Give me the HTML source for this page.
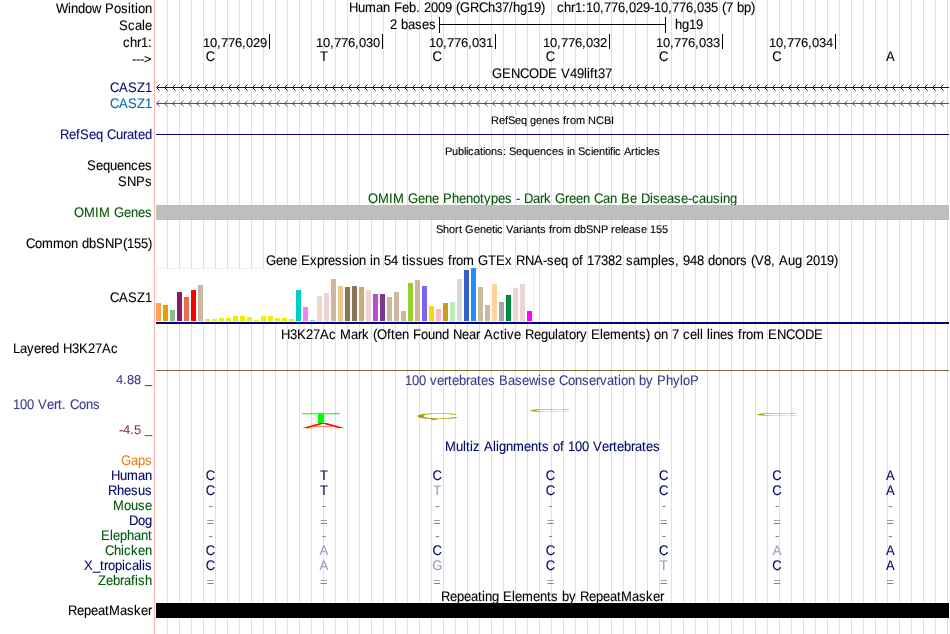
<!DOCTYPE html>
<html lang="en"><head><meta charset="utf-8"><title>UCSC Genome Browser - chr1:10,776,029-10,776,035</title>
<style>
html,body{margin:0;padding:0;background:#fff;overflow:hidden}
svg{display:block;font-family:'Liberation Sans', sans-serif;font-size:13px}
text{white-space:pre;text-rendering:geometricPrecision}
</style></head><body>
<svg width="950" height="634" viewBox="0 0 950 634" shape-rendering="crispEdges" xml:space="preserve">
<rect width="950" height="634" fill="#fff"/>
<path d="M167.5 0V634M179.5 0V634M191.5 0V634M203.5 0V634M215.5 0V634M227.5 0V634M239.5 0V634M251.5 0V634M263.5 0V634M275.5 0V634M287.5 0V634M299.5 0V634M311.5 0V634M323.5 0V634M335.5 0V634M347.5 0V634M359.5 0V634M371.5 0V634M383.5 0V634M395.5 0V634M407.5 0V634M419.5 0V634M431.5 0V634M443.5 0V634M455.5 0V634M467.5 0V634M479.5 0V634M491.5 0V634M503.5 0V634M515.5 0V634M527.5 0V634M539.5 0V634M551.5 0V634M563.5 0V634M575.5 0V634M587.5 0V634M599.5 0V634M611.5 0V634M623.5 0V634M635.5 0V634M647.5 0V634M659.5 0V634M671.5 0V634M683.5 0V634M695.5 0V634M707.5 0V634M719.5 0V634M731.5 0V634M743.5 0V634M755.5 0V634M767.5 0V634M779.5 0V634M791.5 0V634M803.5 0V634M815.5 0V634M827.5 0V634M839.5 0V634M851.5 0V634M863.5 0V634M875.5 0V634M887.5 0V634M899.5 0V634M911.5 0V634M923.5 0V634M935.5 0V634M947.5 0V634" stroke="#dcdcff" stroke-width="1" fill="none"/>
<rect x="154" y="0" width="1" height="634" fill="#ffb4b4"/>
<text x="56 68 71 78 85 92 101 105 114 121 128 131 135 138 145" y="0" transform="translate(0 13) scale(1 1.07)" fill="#000" stroke="#000" stroke-width="0.1">Window Position</text>
<text x="349 358 365 376 383 390 394 402 409 416 420 424 431 438 445 452 456 460 470 479 488 495 502 509 513 520 527 534 541 545 549 553 557 564 571 575 582 586 593 600 604 611 618 625 629 636 643 650 654 661 668 672 679 686 693 697 704 711 718 722 726 733 737 744 751" y="0" transform="translate(0 12) scale(1 1.07)" fill="#000" stroke="#000" stroke-width="0.1">Human Feb. 2009 (GRCh37/hg19)   chr1:10,776,029-10,776,035 (7 bp)</text>
<text x="119 128 135 142 145" y="0" transform="translate(0 30) scale(1 1.07)" fill="#000" stroke="#000" stroke-width="0.1">Scale</text>
<text x="390 397 401 408 415 422 429" y="0" transform="translate(0 29) scale(1 1.07)" fill="#000" stroke="#000" stroke-width="0.1">2 bases</text>
<text x="675 682 689 696" y="0" transform="translate(0 29) scale(1 1.07)" fill="#000" stroke="#000" stroke-width="0.1">hg19</text>
<rect x="439" y="17" width="1" height="16" fill="#000"/>
<rect x="665" y="17" width="1" height="16" fill="#000"/>
<rect x="439" y="24" width="227" height="1" fill="#000"/>
<text x="123 130 137 141 148" y="0" transform="translate(0 47) scale(1 1.07)" fill="#000" stroke="#000" stroke-width="0.1">chr1:</text>
<rect x="269" y="34" width="1" height="15" fill="#000"/>
<text x="203 210 217 221 228 235 242 246 253 260" y="0" transform="translate(0 47) scale(1 0.98)" fill="#000" stroke="#000" stroke-width="0.1">10,776,029</text>
<rect x="382" y="34" width="1" height="15" fill="#000"/>
<text x="316 323 330 334 341 348 355 359 366 373" y="0" transform="translate(0 47) scale(1 0.98)" fill="#000" stroke="#000" stroke-width="0.1">10,776,030</text>
<rect x="495" y="34" width="1" height="15" fill="#000"/>
<text x="429 436 443 447 454 461 468 472 479 486" y="0" transform="translate(0 47) scale(1 0.98)" fill="#000" stroke="#000" stroke-width="0.1">10,776,031</text>
<rect x="609" y="34" width="1" height="15" fill="#000"/>
<text x="543 550 557 561 568 575 582 586 593 600" y="0" transform="translate(0 47) scale(1 0.98)" fill="#000" stroke="#000" stroke-width="0.1">10,776,032</text>
<rect x="722" y="34" width="1" height="15" fill="#000"/>
<text x="656 663 670 674 681 688 695 699 706 713" y="0" transform="translate(0 47) scale(1 0.98)" fill="#000" stroke="#000" stroke-width="0.1">10,776,033</text>
<rect x="835" y="34" width="1" height="15" fill="#000"/>
<text x="769 776 783 787 794 801 808 812 819 826" y="0" transform="translate(0 47) scale(1 0.98)" fill="#000" stroke="#000" stroke-width="0.1">10,776,034</text>
<text x="132 136 140 144" y="0" transform="translate(0 62.6) scale(1 0.9)" fill="#000" stroke="#000" stroke-width="0.1">---&gt;</text>
<text transform="translate(205.87 61) scale(1 1.07)" fill="#000" stroke="#000" stroke-width="0.1">C</text>
<text transform="translate(319.97 61) scale(1 1.07)" fill="#000" stroke="#000" stroke-width="0.1">T</text>
<text transform="translate(432.44 61) scale(1 1.07)" fill="#000" stroke="#000" stroke-width="0.1">C</text>
<text transform="translate(545.73 61) scale(1 1.07)" fill="#000" stroke="#000" stroke-width="0.1">C</text>
<text transform="translate(659.01 61) scale(1 1.07)" fill="#000" stroke="#000" stroke-width="0.1">C</text>
<text transform="translate(772.3 61) scale(1 1.07)" fill="#000" stroke="#000" stroke-width="0.1">C</text>
<text transform="translate(885.99 61) scale(1 1.07)" fill="#000" stroke="#000" stroke-width="0.1">A</text>
<text x="492 502 511 520 529 539 548 557 561 570 577 584 587 590 594 598 605" y="0" transform="translate(0 78) scale(1 1.07)" fill="#000" stroke="#000" stroke-width="0.1">GENCODE V49lift37</text>
<text x="110 119 128 137 145" y="0" transform="translate(0 92) scale(1 1.07)" fill="#0c0c78" stroke="#0c0c78" stroke-width="0.1">CASZ1</text>
<rect x="157" y="87" width="792" height="1" fill="#0c0c78"/>
<rect x="156" y="87" width="1" height="1" fill="#0c0c78" opacity="0.6"/>
<path d="M157 86h1v3h-1zM158 85h1v1h-1zM158 89h1v1h-1zM165 86h1v3h-1zM166 85h1v1h-1zM166 89h1v1h-1zM173 86h1v3h-1zM174 85h1v1h-1zM174 89h1v1h-1zM181 86h1v3h-1zM182 85h1v1h-1zM182 89h1v1h-1zM189 86h1v3h-1zM190 85h1v1h-1zM190 89h1v1h-1zM197 86h1v3h-1zM198 85h1v1h-1zM198 89h1v1h-1zM205 86h1v3h-1zM206 85h1v1h-1zM206 89h1v1h-1zM213 86h1v3h-1zM214 85h1v1h-1zM214 89h1v1h-1zM221 86h1v3h-1zM222 85h1v1h-1zM222 89h1v1h-1zM229 86h1v3h-1zM230 85h1v1h-1zM230 89h1v1h-1zM237 86h1v3h-1zM238 85h1v1h-1zM238 89h1v1h-1zM245 86h1v3h-1zM246 85h1v1h-1zM246 89h1v1h-1zM253 86h1v3h-1zM254 85h1v1h-1zM254 89h1v1h-1zM261 86h1v3h-1zM262 85h1v1h-1zM262 89h1v1h-1zM269 86h1v3h-1zM270 85h1v1h-1zM270 89h1v1h-1zM277 86h1v3h-1zM278 85h1v1h-1zM278 89h1v1h-1zM285 86h1v3h-1zM286 85h1v1h-1zM286 89h1v1h-1zM293 86h1v3h-1zM294 85h1v1h-1zM294 89h1v1h-1zM301 86h1v3h-1zM302 85h1v1h-1zM302 89h1v1h-1zM309 86h1v3h-1zM310 85h1v1h-1zM310 89h1v1h-1zM317 86h1v3h-1zM318 85h1v1h-1zM318 89h1v1h-1zM325 86h1v3h-1zM326 85h1v1h-1zM326 89h1v1h-1zM333 86h1v3h-1zM334 85h1v1h-1zM334 89h1v1h-1zM341 86h1v3h-1zM342 85h1v1h-1zM342 89h1v1h-1zM349 86h1v3h-1zM350 85h1v1h-1zM350 89h1v1h-1zM357 86h1v3h-1zM358 85h1v1h-1zM358 89h1v1h-1zM365 86h1v3h-1zM366 85h1v1h-1zM366 89h1v1h-1zM373 86h1v3h-1zM374 85h1v1h-1zM374 89h1v1h-1zM381 86h1v3h-1zM382 85h1v1h-1zM382 89h1v1h-1zM389 86h1v3h-1zM390 85h1v1h-1zM390 89h1v1h-1zM397 86h1v3h-1zM398 85h1v1h-1zM398 89h1v1h-1zM405 86h1v3h-1zM406 85h1v1h-1zM406 89h1v1h-1zM413 86h1v3h-1zM414 85h1v1h-1zM414 89h1v1h-1zM421 86h1v3h-1zM422 85h1v1h-1zM422 89h1v1h-1zM429 86h1v3h-1zM430 85h1v1h-1zM430 89h1v1h-1zM437 86h1v3h-1zM438 85h1v1h-1zM438 89h1v1h-1zM445 86h1v3h-1zM446 85h1v1h-1zM446 89h1v1h-1zM453 86h1v3h-1zM454 85h1v1h-1zM454 89h1v1h-1zM461 86h1v3h-1zM462 85h1v1h-1zM462 89h1v1h-1zM469 86h1v3h-1zM470 85h1v1h-1zM470 89h1v1h-1zM477 86h1v3h-1zM478 85h1v1h-1zM478 89h1v1h-1zM485 86h1v3h-1zM486 85h1v1h-1zM486 89h1v1h-1zM493 86h1v3h-1zM494 85h1v1h-1zM494 89h1v1h-1zM501 86h1v3h-1zM502 85h1v1h-1zM502 89h1v1h-1zM509 86h1v3h-1zM510 85h1v1h-1zM510 89h1v1h-1zM517 86h1v3h-1zM518 85h1v1h-1zM518 89h1v1h-1zM525 86h1v3h-1zM526 85h1v1h-1zM526 89h1v1h-1zM533 86h1v3h-1zM534 85h1v1h-1zM534 89h1v1h-1zM541 86h1v3h-1zM542 85h1v1h-1zM542 89h1v1h-1zM549 86h1v3h-1zM550 85h1v1h-1zM550 89h1v1h-1zM557 86h1v3h-1zM558 85h1v1h-1zM558 89h1v1h-1zM565 86h1v3h-1zM566 85h1v1h-1zM566 89h1v1h-1zM573 86h1v3h-1zM574 85h1v1h-1zM574 89h1v1h-1zM581 86h1v3h-1zM582 85h1v1h-1zM582 89h1v1h-1zM589 86h1v3h-1zM590 85h1v1h-1zM590 89h1v1h-1zM597 86h1v3h-1zM598 85h1v1h-1zM598 89h1v1h-1zM605 86h1v3h-1zM606 85h1v1h-1zM606 89h1v1h-1zM613 86h1v3h-1zM614 85h1v1h-1zM614 89h1v1h-1zM621 86h1v3h-1zM622 85h1v1h-1zM622 89h1v1h-1zM629 86h1v3h-1zM630 85h1v1h-1zM630 89h1v1h-1zM637 86h1v3h-1zM638 85h1v1h-1zM638 89h1v1h-1zM645 86h1v3h-1zM646 85h1v1h-1zM646 89h1v1h-1zM653 86h1v3h-1zM654 85h1v1h-1zM654 89h1v1h-1zM661 86h1v3h-1zM662 85h1v1h-1zM662 89h1v1h-1zM669 86h1v3h-1zM670 85h1v1h-1zM670 89h1v1h-1zM677 86h1v3h-1zM678 85h1v1h-1zM678 89h1v1h-1zM685 86h1v3h-1zM686 85h1v1h-1zM686 89h1v1h-1zM693 86h1v3h-1zM694 85h1v1h-1zM694 89h1v1h-1zM701 86h1v3h-1zM702 85h1v1h-1zM702 89h1v1h-1zM709 86h1v3h-1zM710 85h1v1h-1zM710 89h1v1h-1zM717 86h1v3h-1zM718 85h1v1h-1zM718 89h1v1h-1zM725 86h1v3h-1zM726 85h1v1h-1zM726 89h1v1h-1zM733 86h1v3h-1zM734 85h1v1h-1zM734 89h1v1h-1zM741 86h1v3h-1zM742 85h1v1h-1zM742 89h1v1h-1zM749 86h1v3h-1zM750 85h1v1h-1zM750 89h1v1h-1zM757 86h1v3h-1zM758 85h1v1h-1zM758 89h1v1h-1zM765 86h1v3h-1zM766 85h1v1h-1zM766 89h1v1h-1zM773 86h1v3h-1zM774 85h1v1h-1zM774 89h1v1h-1zM781 86h1v3h-1zM782 85h1v1h-1zM782 89h1v1h-1zM789 86h1v3h-1zM790 85h1v1h-1zM790 89h1v1h-1zM797 86h1v3h-1zM798 85h1v1h-1zM798 89h1v1h-1zM805 86h1v3h-1zM806 85h1v1h-1zM806 89h1v1h-1zM813 86h1v3h-1zM814 85h1v1h-1zM814 89h1v1h-1zM821 86h1v3h-1zM822 85h1v1h-1zM822 89h1v1h-1zM829 86h1v3h-1zM830 85h1v1h-1zM830 89h1v1h-1zM837 86h1v3h-1zM838 85h1v1h-1zM838 89h1v1h-1zM845 86h1v3h-1zM846 85h1v1h-1zM846 89h1v1h-1zM853 86h1v3h-1zM854 85h1v1h-1zM854 89h1v1h-1zM861 86h1v3h-1zM862 85h1v1h-1zM862 89h1v1h-1zM869 86h1v3h-1zM870 85h1v1h-1zM870 89h1v1h-1zM877 86h1v3h-1zM878 85h1v1h-1zM878 89h1v1h-1zM885 86h1v3h-1zM886 85h1v1h-1zM886 89h1v1h-1zM893 86h1v3h-1zM894 85h1v1h-1zM894 89h1v1h-1zM901 86h1v3h-1zM902 85h1v1h-1zM902 89h1v1h-1zM909 86h1v3h-1zM910 85h1v1h-1zM910 89h1v1h-1zM917 86h1v3h-1zM918 85h1v1h-1zM918 89h1v1h-1zM925 86h1v3h-1zM926 85h1v1h-1zM926 89h1v1h-1zM933 86h1v3h-1zM934 85h1v1h-1zM934 89h1v1h-1zM941 86h1v3h-1zM942 85h1v1h-1zM942 89h1v1h-1z" fill="#0c0c78"/>
<path d="M159 84h1v1h-1zM159 90h1v1h-1zM167 84h1v1h-1zM167 90h1v1h-1zM175 84h1v1h-1zM175 90h1v1h-1zM183 84h1v1h-1zM183 90h1v1h-1zM191 84h1v1h-1zM191 90h1v1h-1zM199 84h1v1h-1zM199 90h1v1h-1zM207 84h1v1h-1zM207 90h1v1h-1zM215 84h1v1h-1zM215 90h1v1h-1zM223 84h1v1h-1zM223 90h1v1h-1zM231 84h1v1h-1zM231 90h1v1h-1zM239 84h1v1h-1zM239 90h1v1h-1zM247 84h1v1h-1zM247 90h1v1h-1zM255 84h1v1h-1zM255 90h1v1h-1zM263 84h1v1h-1zM263 90h1v1h-1zM271 84h1v1h-1zM271 90h1v1h-1zM279 84h1v1h-1zM279 90h1v1h-1zM287 84h1v1h-1zM287 90h1v1h-1zM295 84h1v1h-1zM295 90h1v1h-1zM303 84h1v1h-1zM303 90h1v1h-1zM311 84h1v1h-1zM311 90h1v1h-1zM319 84h1v1h-1zM319 90h1v1h-1zM327 84h1v1h-1zM327 90h1v1h-1zM335 84h1v1h-1zM335 90h1v1h-1zM343 84h1v1h-1zM343 90h1v1h-1zM351 84h1v1h-1zM351 90h1v1h-1zM359 84h1v1h-1zM359 90h1v1h-1zM367 84h1v1h-1zM367 90h1v1h-1zM375 84h1v1h-1zM375 90h1v1h-1zM383 84h1v1h-1zM383 90h1v1h-1zM391 84h1v1h-1zM391 90h1v1h-1zM399 84h1v1h-1zM399 90h1v1h-1zM407 84h1v1h-1zM407 90h1v1h-1zM415 84h1v1h-1zM415 90h1v1h-1zM423 84h1v1h-1zM423 90h1v1h-1zM431 84h1v1h-1zM431 90h1v1h-1zM439 84h1v1h-1zM439 90h1v1h-1zM447 84h1v1h-1zM447 90h1v1h-1zM455 84h1v1h-1zM455 90h1v1h-1zM463 84h1v1h-1zM463 90h1v1h-1zM471 84h1v1h-1zM471 90h1v1h-1zM479 84h1v1h-1zM479 90h1v1h-1zM487 84h1v1h-1zM487 90h1v1h-1zM495 84h1v1h-1zM495 90h1v1h-1zM503 84h1v1h-1zM503 90h1v1h-1zM511 84h1v1h-1zM511 90h1v1h-1zM519 84h1v1h-1zM519 90h1v1h-1zM527 84h1v1h-1zM527 90h1v1h-1zM535 84h1v1h-1zM535 90h1v1h-1zM543 84h1v1h-1zM543 90h1v1h-1zM551 84h1v1h-1zM551 90h1v1h-1zM559 84h1v1h-1zM559 90h1v1h-1zM567 84h1v1h-1zM567 90h1v1h-1zM575 84h1v1h-1zM575 90h1v1h-1zM583 84h1v1h-1zM583 90h1v1h-1zM591 84h1v1h-1zM591 90h1v1h-1zM599 84h1v1h-1zM599 90h1v1h-1zM607 84h1v1h-1zM607 90h1v1h-1zM615 84h1v1h-1zM615 90h1v1h-1zM623 84h1v1h-1zM623 90h1v1h-1zM631 84h1v1h-1zM631 90h1v1h-1zM639 84h1v1h-1zM639 90h1v1h-1zM647 84h1v1h-1zM647 90h1v1h-1zM655 84h1v1h-1zM655 90h1v1h-1zM663 84h1v1h-1zM663 90h1v1h-1zM671 84h1v1h-1zM671 90h1v1h-1zM679 84h1v1h-1zM679 90h1v1h-1zM687 84h1v1h-1zM687 90h1v1h-1zM695 84h1v1h-1zM695 90h1v1h-1zM703 84h1v1h-1zM703 90h1v1h-1zM711 84h1v1h-1zM711 90h1v1h-1zM719 84h1v1h-1zM719 90h1v1h-1zM727 84h1v1h-1zM727 90h1v1h-1zM735 84h1v1h-1zM735 90h1v1h-1zM743 84h1v1h-1zM743 90h1v1h-1zM751 84h1v1h-1zM751 90h1v1h-1zM759 84h1v1h-1zM759 90h1v1h-1zM767 84h1v1h-1zM767 90h1v1h-1zM775 84h1v1h-1zM775 90h1v1h-1zM783 84h1v1h-1zM783 90h1v1h-1zM791 84h1v1h-1zM791 90h1v1h-1zM799 84h1v1h-1zM799 90h1v1h-1zM807 84h1v1h-1zM807 90h1v1h-1zM815 84h1v1h-1zM815 90h1v1h-1zM823 84h1v1h-1zM823 90h1v1h-1zM831 84h1v1h-1zM831 90h1v1h-1zM839 84h1v1h-1zM839 90h1v1h-1zM847 84h1v1h-1zM847 90h1v1h-1zM855 84h1v1h-1zM855 90h1v1h-1zM863 84h1v1h-1zM863 90h1v1h-1zM871 84h1v1h-1zM871 90h1v1h-1zM879 84h1v1h-1zM879 90h1v1h-1zM887 84h1v1h-1zM887 90h1v1h-1zM895 84h1v1h-1zM895 90h1v1h-1zM903 84h1v1h-1zM903 90h1v1h-1zM911 84h1v1h-1zM911 90h1v1h-1zM919 84h1v1h-1zM919 90h1v1h-1zM927 84h1v1h-1zM927 90h1v1h-1zM935 84h1v1h-1zM935 90h1v1h-1zM943 84h1v1h-1zM943 90h1v1h-1z" fill="#0c0c78" opacity="0.45"/>
<text x="110 119 128 137 145" y="0" transform="translate(0 108) scale(1 1.07)" fill="#016fab" stroke="#016fab" stroke-width="0.1">CASZ1</text>
<rect x="157" y="103" width="792" height="1" fill="#016fab"/>
<rect x="156" y="103" width="1" height="1" fill="#016fab" opacity="0.6"/>
<path d="M157 102h1v3h-1zM158 101h1v1h-1zM158 105h1v1h-1zM165 102h1v3h-1zM166 101h1v1h-1zM166 105h1v1h-1zM173 102h1v3h-1zM174 101h1v1h-1zM174 105h1v1h-1zM181 102h1v3h-1zM182 101h1v1h-1zM182 105h1v1h-1zM189 102h1v3h-1zM190 101h1v1h-1zM190 105h1v1h-1zM197 102h1v3h-1zM198 101h1v1h-1zM198 105h1v1h-1zM205 102h1v3h-1zM206 101h1v1h-1zM206 105h1v1h-1zM213 102h1v3h-1zM214 101h1v1h-1zM214 105h1v1h-1zM221 102h1v3h-1zM222 101h1v1h-1zM222 105h1v1h-1zM229 102h1v3h-1zM230 101h1v1h-1zM230 105h1v1h-1zM237 102h1v3h-1zM238 101h1v1h-1zM238 105h1v1h-1zM245 102h1v3h-1zM246 101h1v1h-1zM246 105h1v1h-1zM253 102h1v3h-1zM254 101h1v1h-1zM254 105h1v1h-1zM261 102h1v3h-1zM262 101h1v1h-1zM262 105h1v1h-1zM269 102h1v3h-1zM270 101h1v1h-1zM270 105h1v1h-1zM277 102h1v3h-1zM278 101h1v1h-1zM278 105h1v1h-1zM285 102h1v3h-1zM286 101h1v1h-1zM286 105h1v1h-1zM293 102h1v3h-1zM294 101h1v1h-1zM294 105h1v1h-1zM301 102h1v3h-1zM302 101h1v1h-1zM302 105h1v1h-1zM309 102h1v3h-1zM310 101h1v1h-1zM310 105h1v1h-1zM317 102h1v3h-1zM318 101h1v1h-1zM318 105h1v1h-1zM325 102h1v3h-1zM326 101h1v1h-1zM326 105h1v1h-1zM333 102h1v3h-1zM334 101h1v1h-1zM334 105h1v1h-1zM341 102h1v3h-1zM342 101h1v1h-1zM342 105h1v1h-1zM349 102h1v3h-1zM350 101h1v1h-1zM350 105h1v1h-1zM357 102h1v3h-1zM358 101h1v1h-1zM358 105h1v1h-1zM365 102h1v3h-1zM366 101h1v1h-1zM366 105h1v1h-1zM373 102h1v3h-1zM374 101h1v1h-1zM374 105h1v1h-1zM381 102h1v3h-1zM382 101h1v1h-1zM382 105h1v1h-1zM389 102h1v3h-1zM390 101h1v1h-1zM390 105h1v1h-1zM397 102h1v3h-1zM398 101h1v1h-1zM398 105h1v1h-1zM405 102h1v3h-1zM406 101h1v1h-1zM406 105h1v1h-1zM413 102h1v3h-1zM414 101h1v1h-1zM414 105h1v1h-1zM421 102h1v3h-1zM422 101h1v1h-1zM422 105h1v1h-1zM429 102h1v3h-1zM430 101h1v1h-1zM430 105h1v1h-1zM437 102h1v3h-1zM438 101h1v1h-1zM438 105h1v1h-1zM445 102h1v3h-1zM446 101h1v1h-1zM446 105h1v1h-1zM453 102h1v3h-1zM454 101h1v1h-1zM454 105h1v1h-1zM461 102h1v3h-1zM462 101h1v1h-1zM462 105h1v1h-1zM469 102h1v3h-1zM470 101h1v1h-1zM470 105h1v1h-1zM477 102h1v3h-1zM478 101h1v1h-1zM478 105h1v1h-1zM485 102h1v3h-1zM486 101h1v1h-1zM486 105h1v1h-1zM493 102h1v3h-1zM494 101h1v1h-1zM494 105h1v1h-1zM501 102h1v3h-1zM502 101h1v1h-1zM502 105h1v1h-1zM509 102h1v3h-1zM510 101h1v1h-1zM510 105h1v1h-1zM517 102h1v3h-1zM518 101h1v1h-1zM518 105h1v1h-1zM525 102h1v3h-1zM526 101h1v1h-1zM526 105h1v1h-1zM533 102h1v3h-1zM534 101h1v1h-1zM534 105h1v1h-1zM541 102h1v3h-1zM542 101h1v1h-1zM542 105h1v1h-1zM549 102h1v3h-1zM550 101h1v1h-1zM550 105h1v1h-1zM557 102h1v3h-1zM558 101h1v1h-1zM558 105h1v1h-1zM565 102h1v3h-1zM566 101h1v1h-1zM566 105h1v1h-1zM573 102h1v3h-1zM574 101h1v1h-1zM574 105h1v1h-1zM581 102h1v3h-1zM582 101h1v1h-1zM582 105h1v1h-1zM589 102h1v3h-1zM590 101h1v1h-1zM590 105h1v1h-1zM597 102h1v3h-1zM598 101h1v1h-1zM598 105h1v1h-1zM605 102h1v3h-1zM606 101h1v1h-1zM606 105h1v1h-1zM613 102h1v3h-1zM614 101h1v1h-1zM614 105h1v1h-1zM621 102h1v3h-1zM622 101h1v1h-1zM622 105h1v1h-1zM629 102h1v3h-1zM630 101h1v1h-1zM630 105h1v1h-1zM637 102h1v3h-1zM638 101h1v1h-1zM638 105h1v1h-1zM645 102h1v3h-1zM646 101h1v1h-1zM646 105h1v1h-1zM653 102h1v3h-1zM654 101h1v1h-1zM654 105h1v1h-1zM661 102h1v3h-1zM662 101h1v1h-1zM662 105h1v1h-1zM669 102h1v3h-1zM670 101h1v1h-1zM670 105h1v1h-1zM677 102h1v3h-1zM678 101h1v1h-1zM678 105h1v1h-1zM685 102h1v3h-1zM686 101h1v1h-1zM686 105h1v1h-1zM693 102h1v3h-1zM694 101h1v1h-1zM694 105h1v1h-1zM701 102h1v3h-1zM702 101h1v1h-1zM702 105h1v1h-1zM709 102h1v3h-1zM710 101h1v1h-1zM710 105h1v1h-1zM717 102h1v3h-1zM718 101h1v1h-1zM718 105h1v1h-1zM725 102h1v3h-1zM726 101h1v1h-1zM726 105h1v1h-1zM733 102h1v3h-1zM734 101h1v1h-1zM734 105h1v1h-1zM741 102h1v3h-1zM742 101h1v1h-1zM742 105h1v1h-1zM749 102h1v3h-1zM750 101h1v1h-1zM750 105h1v1h-1zM757 102h1v3h-1zM758 101h1v1h-1zM758 105h1v1h-1zM765 102h1v3h-1zM766 101h1v1h-1zM766 105h1v1h-1zM773 102h1v3h-1zM774 101h1v1h-1zM774 105h1v1h-1zM781 102h1v3h-1zM782 101h1v1h-1zM782 105h1v1h-1zM789 102h1v3h-1zM790 101h1v1h-1zM790 105h1v1h-1zM797 102h1v3h-1zM798 101h1v1h-1zM798 105h1v1h-1zM805 102h1v3h-1zM806 101h1v1h-1zM806 105h1v1h-1zM813 102h1v3h-1zM814 101h1v1h-1zM814 105h1v1h-1zM821 102h1v3h-1zM822 101h1v1h-1zM822 105h1v1h-1zM829 102h1v3h-1zM830 101h1v1h-1zM830 105h1v1h-1zM837 102h1v3h-1zM838 101h1v1h-1zM838 105h1v1h-1zM845 102h1v3h-1zM846 101h1v1h-1zM846 105h1v1h-1zM853 102h1v3h-1zM854 101h1v1h-1zM854 105h1v1h-1zM861 102h1v3h-1zM862 101h1v1h-1zM862 105h1v1h-1zM869 102h1v3h-1zM870 101h1v1h-1zM870 105h1v1h-1zM877 102h1v3h-1zM878 101h1v1h-1zM878 105h1v1h-1zM885 102h1v3h-1zM886 101h1v1h-1zM886 105h1v1h-1zM893 102h1v3h-1zM894 101h1v1h-1zM894 105h1v1h-1zM901 102h1v3h-1zM902 101h1v1h-1zM902 105h1v1h-1zM909 102h1v3h-1zM910 101h1v1h-1zM910 105h1v1h-1zM917 102h1v3h-1zM918 101h1v1h-1zM918 105h1v1h-1zM925 102h1v3h-1zM926 101h1v1h-1zM926 105h1v1h-1zM933 102h1v3h-1zM934 101h1v1h-1zM934 105h1v1h-1zM941 102h1v3h-1zM942 101h1v1h-1zM942 105h1v1h-1z" fill="#016fab"/>
<path d="M159 100h1v1h-1zM159 106h1v1h-1zM167 100h1v1h-1zM167 106h1v1h-1zM175 100h1v1h-1zM175 106h1v1h-1zM183 100h1v1h-1zM183 106h1v1h-1zM191 100h1v1h-1zM191 106h1v1h-1zM199 100h1v1h-1zM199 106h1v1h-1zM207 100h1v1h-1zM207 106h1v1h-1zM215 100h1v1h-1zM215 106h1v1h-1zM223 100h1v1h-1zM223 106h1v1h-1zM231 100h1v1h-1zM231 106h1v1h-1zM239 100h1v1h-1zM239 106h1v1h-1zM247 100h1v1h-1zM247 106h1v1h-1zM255 100h1v1h-1zM255 106h1v1h-1zM263 100h1v1h-1zM263 106h1v1h-1zM271 100h1v1h-1zM271 106h1v1h-1zM279 100h1v1h-1zM279 106h1v1h-1zM287 100h1v1h-1zM287 106h1v1h-1zM295 100h1v1h-1zM295 106h1v1h-1zM303 100h1v1h-1zM303 106h1v1h-1zM311 100h1v1h-1zM311 106h1v1h-1zM319 100h1v1h-1zM319 106h1v1h-1zM327 100h1v1h-1zM327 106h1v1h-1zM335 100h1v1h-1zM335 106h1v1h-1zM343 100h1v1h-1zM343 106h1v1h-1zM351 100h1v1h-1zM351 106h1v1h-1zM359 100h1v1h-1zM359 106h1v1h-1zM367 100h1v1h-1zM367 106h1v1h-1zM375 100h1v1h-1zM375 106h1v1h-1zM383 100h1v1h-1zM383 106h1v1h-1zM391 100h1v1h-1zM391 106h1v1h-1zM399 100h1v1h-1zM399 106h1v1h-1zM407 100h1v1h-1zM407 106h1v1h-1zM415 100h1v1h-1zM415 106h1v1h-1zM423 100h1v1h-1zM423 106h1v1h-1zM431 100h1v1h-1zM431 106h1v1h-1zM439 100h1v1h-1zM439 106h1v1h-1zM447 100h1v1h-1zM447 106h1v1h-1zM455 100h1v1h-1zM455 106h1v1h-1zM463 100h1v1h-1zM463 106h1v1h-1zM471 100h1v1h-1zM471 106h1v1h-1zM479 100h1v1h-1zM479 106h1v1h-1zM487 100h1v1h-1zM487 106h1v1h-1zM495 100h1v1h-1zM495 106h1v1h-1zM503 100h1v1h-1zM503 106h1v1h-1zM511 100h1v1h-1zM511 106h1v1h-1zM519 100h1v1h-1zM519 106h1v1h-1zM527 100h1v1h-1zM527 106h1v1h-1zM535 100h1v1h-1zM535 106h1v1h-1zM543 100h1v1h-1zM543 106h1v1h-1zM551 100h1v1h-1zM551 106h1v1h-1zM559 100h1v1h-1zM559 106h1v1h-1zM567 100h1v1h-1zM567 106h1v1h-1zM575 100h1v1h-1zM575 106h1v1h-1zM583 100h1v1h-1zM583 106h1v1h-1zM591 100h1v1h-1zM591 106h1v1h-1zM599 100h1v1h-1zM599 106h1v1h-1zM607 100h1v1h-1zM607 106h1v1h-1zM615 100h1v1h-1zM615 106h1v1h-1zM623 100h1v1h-1zM623 106h1v1h-1zM631 100h1v1h-1zM631 106h1v1h-1zM639 100h1v1h-1zM639 106h1v1h-1zM647 100h1v1h-1zM647 106h1v1h-1zM655 100h1v1h-1zM655 106h1v1h-1zM663 100h1v1h-1zM663 106h1v1h-1zM671 100h1v1h-1zM671 106h1v1h-1zM679 100h1v1h-1zM679 106h1v1h-1zM687 100h1v1h-1zM687 106h1v1h-1zM695 100h1v1h-1zM695 106h1v1h-1zM703 100h1v1h-1zM703 106h1v1h-1zM711 100h1v1h-1zM711 106h1v1h-1zM719 100h1v1h-1zM719 106h1v1h-1zM727 100h1v1h-1zM727 106h1v1h-1zM735 100h1v1h-1zM735 106h1v1h-1zM743 100h1v1h-1zM743 106h1v1h-1zM751 100h1v1h-1zM751 106h1v1h-1zM759 100h1v1h-1zM759 106h1v1h-1zM767 100h1v1h-1zM767 106h1v1h-1zM775 100h1v1h-1zM775 106h1v1h-1zM783 100h1v1h-1zM783 106h1v1h-1zM791 100h1v1h-1zM791 106h1v1h-1zM799 100h1v1h-1zM799 106h1v1h-1zM807 100h1v1h-1zM807 106h1v1h-1zM815 100h1v1h-1zM815 106h1v1h-1zM823 100h1v1h-1zM823 106h1v1h-1zM831 100h1v1h-1zM831 106h1v1h-1zM839 100h1v1h-1zM839 106h1v1h-1zM847 100h1v1h-1zM847 106h1v1h-1zM855 100h1v1h-1zM855 106h1v1h-1zM863 100h1v1h-1zM863 106h1v1h-1zM871 100h1v1h-1zM871 106h1v1h-1zM879 100h1v1h-1zM879 106h1v1h-1zM887 100h1v1h-1zM887 106h1v1h-1zM895 100h1v1h-1zM895 106h1v1h-1zM903 100h1v1h-1zM903 106h1v1h-1zM911 100h1v1h-1zM911 106h1v1h-1zM919 100h1v1h-1zM919 106h1v1h-1zM927 100h1v1h-1zM927 106h1v1h-1zM935 100h1v1h-1zM935 106h1v1h-1zM943 100h1v1h-1zM943 106h1v1h-1z" fill="#016fab" opacity="0.45"/>
<text x="491 499 505 508 515 521 527 530 536 542 548 554 560 563 566 570 576 585 588 596 604 611" y="124" font-size="11" fill="#000" stroke="#000" stroke-width="0.1">RefSeq genes from NCBI</text>
<text x="60 69 76 80 89 96 103 107 116 123 127 134 138 145" y="0" transform="translate(0 139) scale(1 1.07)" fill="#0c0c78" stroke="#0c0c78" stroke-width="0.1">RefSeq Curated</text>
<rect x="156" y="134" width="793" height="1" fill="#0c0c78"/>
<text x="445 452 458 464 466 468 474 480 483 485 491 497 503 506 509 516 522 528 534 540 546 552 558 564 567 569 575 578 585 591 593 599 605 608 610 613 615 621 624 631 635 638 640 646 648 654" y="155" font-size="11" fill="#000" stroke="#000" stroke-width="0.1">Publications: Sequences in Scientific Articles</text>
<text x="87 96 103 110 117 124 131 138 145" y="0" transform="translate(0 170) scale(1 1.07)" fill="#000" stroke="#000" stroke-width="0.1">Sequences</text>
<text x="118 127 136 145" y="0" transform="translate(0 186) scale(1 1.07)" fill="#000" stroke="#000" stroke-width="0.1">SNPs</text>
<text x="368 378 389 393 404 408 418 425 432 439 443 452 459 466 473 480 484 491 498 505 512 516 520 524 533 540 544 551 555 565 569 576 583 590 594 603 610 617 621 630 637 641 650 653 660 667 674 681 688 692 699 706 713 720 723 730" y="0" transform="translate(0 203) scale(1 1.07)" fill="#085608" stroke="#085608" stroke-width="0.1">OMIM Gene Phenotypes - Dark Green Can Be Disease-causing</text>
<text x="74 84 95 99 110 114 124 131 138 145" y="0" transform="translate(0 217) scale(1 1.07)" fill="#085608" stroke="#085608" stroke-width="0.1">OMIM Genes</text>
<rect x="156" y="205" width="793" height="15" fill="#bebebe"/>
<text x="436 443 449 455 459 462 465 474 480 486 492 495 497 503 506 513 519 523 525 531 537 540 546 549 552 556 562 571 574 580 586 593 601 608 611 615 621 623 629 635 641 647 650 656 662" y="233" font-size="11" fill="#000" stroke="#000" stroke-width="0.1">Short Genetic Variants from dbSNP release 155</text>
<text x="26 35 42 53 64 71 78 82 89 96 105 114 123 127 134 141 148" y="0" transform="translate(0 248) scale(1 1.07)" fill="#000" stroke="#000" stroke-width="0.1">Common dbSNP(155)</text>
<text x="266 276 283 290 297 301 310 317 324 328 335 342 349 352 359 366 370 373 380 384 391 398 402 406 409 416 423 430 437 444 448 452 456 463 474 478 488 496 505 512 516 525 534 543 547 554 561 568 572 579 583 587 594 601 608 615 622 626 633 640 651 658 661 668 675 679 683 690 697 704 708 715 722 729 736 740 747 751 755 764 771 775 779 788 795 802 806 813 820 827 834" y="0" transform="translate(0 265) scale(1 1.07)" fill="#000" stroke="#000" stroke-width="0.1">Gene Expression in 54 tissues from GTEx RNA-seq of 17382 samples, 948 donors (V8, Aug 2019)</text>
<rect x="156" y="268" width="378" height="54" fill="#f0f0f0"/>
<rect x="157" y="269" width="376" height="52" fill="#fff"/>
<rect x="156" y="303" width="5" height="18" fill="#FFA54F"/>
<rect x="163" y="305" width="5" height="16" fill="#EE9A00"/>
<rect x="170" y="310" width="5" height="11" fill="#8FBC8F"/>
<rect x="177" y="292" width="5" height="29" fill="#8B1C62"/>
<rect x="184" y="297" width="5" height="24" fill="#EE6A50"/>
<rect x="191" y="290" width="5" height="31" fill="#FF0000"/>
<rect x="198" y="285" width="5" height="36" fill="#CDB79E"/>
<rect x="205" y="319" width="5" height="2" fill="#EEEE00"/>
<rect x="212" y="319" width="5" height="2" fill="#EEEE00"/>
<rect x="219" y="318" width="5" height="3" fill="#EEEE00"/>
<rect x="226" y="318" width="5" height="3" fill="#EEEE00"/>
<rect x="233" y="316" width="5" height="5" fill="#EEEE00"/>
<rect x="240" y="316" width="5" height="5" fill="#EEEE00"/>
<rect x="247" y="317" width="5" height="4" fill="#EEEE00"/>
<rect x="254" y="320" width="5" height="1" fill="#EEEE00"/>
<rect x="261" y="316" width="5" height="5" fill="#EEEE00"/>
<rect x="268" y="316" width="5" height="5" fill="#EEEE00"/>
<rect x="275" y="318" width="5" height="3" fill="#EEEE00"/>
<rect x="282" y="318" width="5" height="3" fill="#EEEE00"/>
<rect x="289" y="319" width="5" height="2" fill="#EEEE00"/>
<rect x="296" y="290" width="5" height="31" fill="#00CDCD"/>
<rect x="303" y="307" width="5" height="14" fill="#EE82EE"/>
<rect x="310" y="320" width="5" height="1" fill="#9AC0CD"/>
<rect x="317" y="296" width="5" height="25" fill="#EED5D2"/>
<rect x="324" y="293" width="5" height="28" fill="#EED5D2"/>
<rect x="331" y="279" width="5" height="42" fill="#CDB79E"/>
<rect x="338" y="286" width="5" height="35" fill="#EEC591"/>
<rect x="345" y="287" width="5" height="34" fill="#8B7355"/>
<rect x="352" y="286" width="5" height="35" fill="#8B7355"/>
<rect x="359" y="287" width="5" height="34" fill="#CDAA7D"/>
<rect x="366" y="290" width="5" height="31" fill="#EED5D2"/>
<rect x="373" y="294" width="5" height="27" fill="#B452CD"/>
<rect x="380" y="294" width="5" height="27" fill="#7A378B"/>
<rect x="387" y="297" width="5" height="24" fill="#CDB79E"/>
<rect x="394" y="292" width="5" height="29" fill="#CDB79E"/>
<rect x="401" y="311" width="5" height="10" fill="#CDB79E"/>
<rect x="408" y="283" width="5" height="38" fill="#9ACD32"/>
<rect x="415" y="280" width="5" height="41" fill="#CDB79E"/>
<rect x="422" y="286" width="5" height="35" fill="#7A67EE"/>
<rect x="429" y="306" width="5" height="15" fill="#FFD700"/>
<rect x="436" y="309" width="5" height="12" fill="#FFB6C1"/>
<rect x="443" y="303" width="5" height="18" fill="#CD9B1D"/>
<rect x="450" y="302" width="5" height="19" fill="#B4EEB4"/>
<rect x="457" y="279" width="5" height="42" fill="#D9D9D9"/>
<rect x="464" y="270" width="5" height="51" fill="#3A5FCD"/>
<rect x="471" y="268" width="5" height="53" fill="#1E90FF"/>
<rect x="478" y="287" width="5" height="34" fill="#CDB79E"/>
<rect x="485" y="305" width="5" height="16" fill="#CDB79E"/>
<rect x="492" y="284" width="5" height="37" fill="#FFD39B"/>
<rect x="499" y="302" width="5" height="19" fill="#A6A6A6"/>
<rect x="506" y="295" width="5" height="26" fill="#008B45"/>
<rect x="513" y="288" width="5" height="33" fill="#EED5D2"/>
<rect x="520" y="284" width="5" height="37" fill="#EED5D2"/>
<rect x="527" y="311" width="5" height="10" fill="#FF00FF"/>
<rect x="156" y="322" width="793" height="2" fill="#000080"/>
<text x="110 119 128 137 145" y="0" transform="translate(0 302) scale(1 1.07)" fill="#000" stroke="#000" stroke-width="0.1">CASZ1</text>
<text x="281 290 297 306 313 320 329 336 340 351 358 362 369 373 377 387 391 395 402 409 413 421 428 435 442 449 453 462 469 476 480 484 493 500 504 507 514 521 525 534 541 548 555 558 565 569 576 580 587 591 600 603 610 621 628 635 639 646 650 654 661 668 672 679 683 690 697 700 703 707 710 713 720 727 734 738 742 746 753 764 768 777 786 795 805 814" y="0" transform="translate(0 339) scale(1 1.07)" fill="#000" stroke="#000" stroke-width="0.1">H3K27Ac Mark (Often Found Near Active Regulatory Elements) on 7 cell lines from ENCODE</text>
<text x="13 20 27 34 41 45 52 59 63 72 79 88 95 102 111" y="0" transform="translate(0 353) scale(1 1.07)" fill="#000" stroke="#000" stroke-width="0.1">Layered H3K27Ac</text>
<rect x="156" y="370" width="793" height="1" fill="#80693a"/>
<text x="405 412 419 426 430 437 444 448 452 459 466 470 477 481 488 495 499 508 515 522 529 538 541 548 555 559 568 575 582 589 596 600 607 614 618 621 628 635 639 646 653 657 666 673 680 683 690" y="0" transform="translate(0 385) scale(1 1.07)" fill="#3c3c8c" stroke="#3c3c8c" stroke-width="0.1">100 vertebrates Basewise Conservation by PhyloP</text>
<text x="116 123 127 134 141" y="0" transform="translate(0 384) scale(1 0.98)" fill="#3c3c8c" stroke="#3c3c8c" stroke-width="0.1">4.88 </text>
<text x="145" y="0" transform="translate(0 382.89) scale(1 1.2)" fill="#3c3c8c">_</text>
<text x="13 20 27 34 38 47 54 58 62 66 70 79 86 93" y="0" transform="translate(0 409) scale(1 1.07)" fill="#3c3c8c" stroke="#3c3c8c" stroke-width="0.1">100 Vert. Cons</text>
<text x="119 123 130 134 141" y="0" transform="translate(0 434) scale(1 0.98)" fill="#8c3c3c" stroke="#8c3c3c" stroke-width="0.1">-4.5 </text>
<text x="145" y="0" transform="translate(0 432.89) scale(1 1.2)" fill="#8c3c3c">_</text>
<text x="445 456 463 466 470 473 480 484 493 496 499 506 513 524 531 538 542 549 553 560 564 568 575 582 589 593 602 609 613 617 624 631 635 642 646 653" y="0" transform="translate(0 451) scale(1 1.07)" fill="#000a64" stroke="#000a64" stroke-width="0.1">Multiz Alignments of 100 Vertebrates</text>
<text transform="translate(300.76 423.00) scale(3.3211 0.7111)" font-size="20" fill="#00ff00">T</text>
<text transform="translate(302.30 428.00) scale(3.1479 0.3556)" font-size="20" fill="#ff0000">A</text>
<text transform="translate(413.96 418.87) scale(3.2390 0.4174)" font-size="20" fill="#a8a000">C</text>
<text transform="translate(526.96 411.93) scale(3.2390 0.2087)" font-size="20" fill="#a8a000">C</text>
<text transform="translate(753.96 415.93) scale(3.2390 0.2087)" font-size="20" fill="#a8a000">C</text>
<rect x="431" y="419" width="6" height="1" fill="#00ff00"/>
<text transform="translate(301.50 429.37) scale(3.2000 0.0974)" font-size="20" fill="#a8a000" opacity="0.45">C</text>
<text x="121 131 138 145" y="0" transform="translate(0 465) scale(1 1.07)" fill="#e6821e" stroke="#e6821e" stroke-width="0.1">Gaps</text>
<text x="111 120 127 138 145" y="0" transform="translate(0 480) scale(1 1.07)" fill="#000a64" stroke="#000a64" stroke-width="0.1">Human</text>
<text transform="translate(205.87 480) scale(1 1.07)" fill="#000a64" stroke="#000a64" stroke-width="0.1">C</text>
<text transform="translate(319.97 480) scale(1 1.07)" fill="#000a64" stroke="#000a64" stroke-width="0.1">T</text>
<text transform="translate(432.44 480) scale(1 1.07)" fill="#000a64" stroke="#000a64" stroke-width="0.1">C</text>
<text transform="translate(545.73 480) scale(1 1.07)" fill="#000a64" stroke="#000a64" stroke-width="0.1">C</text>
<text transform="translate(659.01 480) scale(1 1.07)" fill="#000a64" stroke="#000a64" stroke-width="0.1">C</text>
<text transform="translate(772.3 480) scale(1 1.07)" fill="#000a64" stroke="#000a64" stroke-width="0.1">C</text>
<text transform="translate(885.99 480) scale(1 1.07)" fill="#000a64" stroke="#000a64" stroke-width="0.1">A</text>
<text x="108 117 124 131 138 145" y="0" transform="translate(0 495) scale(1 1.07)" fill="#000a64" stroke="#000a64" stroke-width="0.1">Rhesus</text>
<text transform="translate(205.87 495) scale(1 1.07)" fill="#000a64" stroke="#000a64" stroke-width="0.1">C</text>
<text transform="translate(319.97 495) scale(1 1.07)" fill="#000a64" stroke="#000a64" stroke-width="0.1">T</text>
<text transform="translate(433.25 495) scale(1 1.07)" fill="#9a9ac8" stroke="#9a9ac8" stroke-width="0.1">T</text>
<text transform="translate(545.73 495) scale(1 1.07)" fill="#000a64" stroke="#000a64" stroke-width="0.1">C</text>
<text transform="translate(659.01 495) scale(1 1.07)" fill="#000a64" stroke="#000a64" stroke-width="0.1">C</text>
<text transform="translate(772.3 495) scale(1 1.07)" fill="#000a64" stroke="#000a64" stroke-width="0.1">C</text>
<text transform="translate(885.99 495) scale(1 1.07)" fill="#000a64" stroke="#000a64" stroke-width="0.1">A</text>
<text x="113 124 131 138 145" y="0" transform="translate(0 510) scale(1 1.07)" fill="#005a0a" stroke="#005a0a" stroke-width="0.1">Mouse</text>
<text transform="translate(208.61 509.95) scale(1 1)" fill="#7d7db8">-</text>
<text transform="translate(321.9 509.95) scale(1 1)" fill="#7d7db8">-</text>
<text transform="translate(435.18 509.95) scale(1 1)" fill="#7d7db8">-</text>
<text transform="translate(548.47 509.95) scale(1 1)" fill="#7d7db8">-</text>
<text transform="translate(661.75 509.95) scale(1 1)" fill="#7d7db8">-</text>
<text transform="translate(775.04 509.95) scale(1 1)" fill="#7d7db8">-</text>
<text transform="translate(888.32 509.95) scale(1 1)" fill="#7d7db8">-</text>
<text x="129 138 145" y="0" transform="translate(0 525) scale(1 1.07)" fill="#000a64" stroke="#000a64" stroke-width="0.1">Dog</text>
<text transform="translate(206.78 526.04) scale(1 0.946)" fill="#7d7db8">=</text>
<text transform="translate(320.07 526.04) scale(1 0.946)" fill="#7d7db8">=</text>
<text transform="translate(433.35 526.04) scale(1 0.946)" fill="#7d7db8">=</text>
<text transform="translate(546.64 526.04) scale(1 0.946)" fill="#7d7db8">=</text>
<text transform="translate(659.93 526.04) scale(1 0.946)" fill="#7d7db8">=</text>
<text transform="translate(773.21 526.04) scale(1 0.946)" fill="#7d7db8">=</text>
<text transform="translate(886.5 526.04) scale(1 0.946)" fill="#7d7db8">=</text>
<text x="101 110 113 120 127 134 141 148" y="0" transform="translate(0 540) scale(1 1.07)" fill="#005a0a" stroke="#005a0a" stroke-width="0.1">Elephant</text>
<text transform="translate(208.61 539.95) scale(1 1)" fill="#7d7db8">-</text>
<text transform="translate(321.9 539.95) scale(1 1)" fill="#7d7db8">-</text>
<text transform="translate(435.18 539.95) scale(1 1)" fill="#7d7db8">-</text>
<text transform="translate(548.47 539.95) scale(1 1)" fill="#7d7db8">-</text>
<text transform="translate(661.75 539.95) scale(1 1)" fill="#7d7db8">-</text>
<text transform="translate(775.04 539.95) scale(1 1)" fill="#7d7db8">-</text>
<text transform="translate(888.32 539.95) scale(1 1)" fill="#7d7db8">-</text>
<text x="105 114 121 124 131 138 145" y="0" transform="translate(0 555) scale(1 1.07)" fill="#005a0a" stroke="#005a0a" stroke-width="0.1">Chicken</text>
<text transform="translate(205.87 555) scale(1 1.07)" fill="#000a64" stroke="#000a64" stroke-width="0.1">C</text>
<text transform="translate(319.56 555) scale(1 1.07)" fill="#9a9ac8" stroke="#9a9ac8" stroke-width="0.1">A</text>
<text transform="translate(432.44 555) scale(1 1.07)" fill="#000a64" stroke="#000a64" stroke-width="0.1">C</text>
<text transform="translate(545.73 555) scale(1 1.07)" fill="#000a64" stroke="#000a64" stroke-width="0.1">C</text>
<text transform="translate(659.01 555) scale(1 1.07)" fill="#000a64" stroke="#000a64" stroke-width="0.1">C</text>
<text transform="translate(772.7 555) scale(1 1.07)" fill="#9a9ac8" stroke="#9a9ac8" stroke-width="0.1">A</text>
<text transform="translate(885.99 555) scale(1 1.07)" fill="#000a64" stroke="#000a64" stroke-width="0.1">A</text>
<text x="84 93 100 104 108 115 122 125 132 139 142 145" y="0" transform="translate(0 570) scale(1 1.07)" fill="#000a64" stroke="#000a64" stroke-width="0.1">X_tropicalis</text>
<text transform="translate(205.87 570) scale(1 1.07)" fill="#000a64" stroke="#000a64" stroke-width="0.1">C</text>
<text transform="translate(319.56 570) scale(1 1.07)" fill="#9a9ac8" stroke="#9a9ac8" stroke-width="0.1">A</text>
<text transform="translate(432.34 570) scale(1 1.07)" fill="#9a9ac8" stroke="#9a9ac8" stroke-width="0.1">G</text>
<text transform="translate(545.73 570) scale(1 1.07)" fill="#000a64" stroke="#000a64" stroke-width="0.1">C</text>
<text transform="translate(659.82 570) scale(1 1.07)" fill="#9a9ac8" stroke="#9a9ac8" stroke-width="0.1">T</text>
<text transform="translate(772.3 570) scale(1 1.07)" fill="#000a64" stroke="#000a64" stroke-width="0.1">C</text>
<text transform="translate(885.99 570) scale(1 1.07)" fill="#000a64" stroke="#000a64" stroke-width="0.1">A</text>
<text x="98 106 113 120 124 131 135 138 145" y="0" transform="translate(0 585) scale(1 1.07)" fill="#005a0a" stroke="#005a0a" stroke-width="0.1">Zebrafish</text>
<text transform="translate(206.78 586.04) scale(1 0.946)" fill="#7d7db8">=</text>
<text transform="translate(320.07 586.04) scale(1 0.946)" fill="#7d7db8">=</text>
<text transform="translate(433.35 586.04) scale(1 0.946)" fill="#7d7db8">=</text>
<text transform="translate(546.64 586.04) scale(1 0.946)" fill="#7d7db8">=</text>
<text transform="translate(659.93 586.04) scale(1 0.946)" fill="#7d7db8">=</text>
<text transform="translate(773.21 586.04) scale(1 0.946)" fill="#7d7db8">=</text>
<text transform="translate(886.5 586.04) scale(1 0.946)" fill="#7d7db8">=</text>
<text x="441 450 457 464 471 478 482 485 492 499 503 512 515 522 533 540 547 551 558 562 569 576 580 589 596 603 610 617 621 632 639 646 653 660" y="0" transform="translate(0 601) scale(1 1.07)" fill="#000" stroke="#000" stroke-width="0.1">Repeating Elements by RepeatMasker</text>
<text x="68 77 84 91 98 105 109 120 127 134 141 148" y="0" transform="translate(0 615) scale(1 1.07)" fill="#000" stroke="#000" stroke-width="0.1">RepeatMasker</text>
<rect x="156" y="603" width="793" height="15" fill="#000"/>
</svg>
</body></html>
